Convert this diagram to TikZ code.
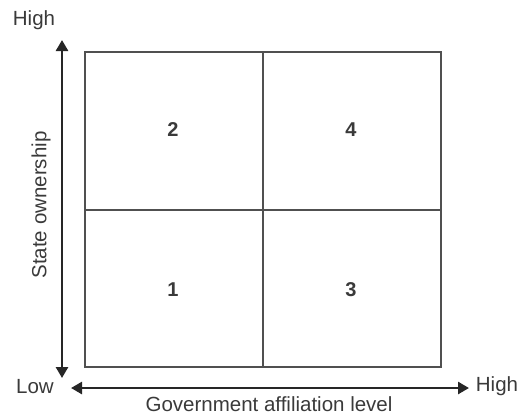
\documentclass[tikz,border=0pt]{standalone}
\usepackage{fontspec}
\setmainfont{Liberation Sans}
\usetikzlibrary{arrows.meta}
\definecolor{boxc}{HTML}{505050}
\definecolor{txt}{HTML}{3A3A3A}
\tikzset{
  lbl/.style={font=\fontsize{20.5}{23}\selectfont, text=txt, inner sep=0pt},
  num/.style={font=\fontsize{20}{23}\selectfont\bfseries, text=txt, inner sep=0pt},
  axis/.style={line width=2.6pt, draw=black!85, -{Triangle[length=11pt,width=12pt]}},
  gridline/.style={line width=1.5pt, draw=boxc}
}
\begin{document}
\begin{tikzpicture}[x=1pt,y=-1pt]
\useasboundingbox (0,0) rectangle (518,416);
\draw[gridline] (85,52) rectangle (441,367);
\draw[gridline] (263,52) -- (263,367);
\draw[gridline] (85,210) -- (441,210);
\node[num] (q2) at (173,130) {2};
\node[num] (q4) at (351,130) {4};
\node[num] (q1) at (173,290) {1};
\node[num] (q3) at (351,290) {3};
\coordinate (vmid) at (62,210);
\coordinate (vtop) at (62,40);
\coordinate (vbot) at (62,378);
\draw[axis] (vmid) -- (vtop);
\draw[axis] (vmid) -- (vbot);
\coordinate (hmid) at (270,388);
\coordinate (hleft) at (71,388);
\coordinate (hright) at (469,388);
\draw[axis] (hmid) -- (hleft);
\draw[axis] (hmid) -- (hright);
\node[lbl] (hightop) at (34,20) {High};
\node[lbl] (low) at (35,387) {Low};
\node[lbl] (highright) at (497,386) {High};
\node[lbl, anchor=base] (xlab) at (269,411) {Government affiliation level};
\node[lbl, rotate=90] (ylab) at (41,205) {State ownership};
\end{tikzpicture}
\end{document}
